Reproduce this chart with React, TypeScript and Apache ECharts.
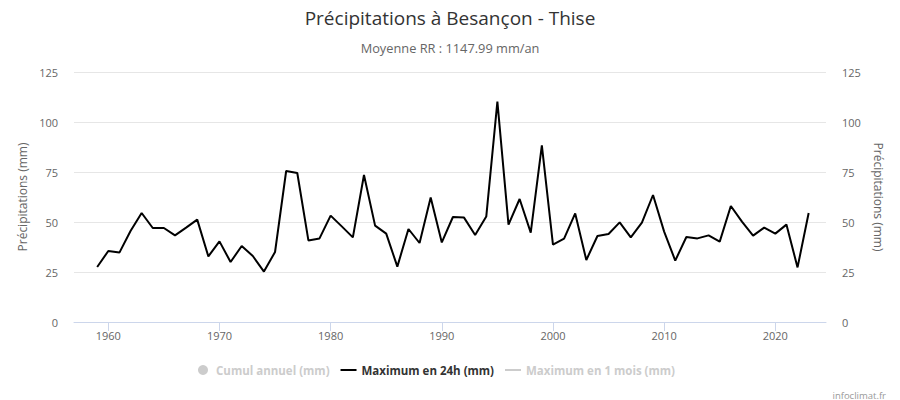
import React, { useEffect, useRef } from "react";
import * as echarts from "echarts";

const years: number[] = [
  1959, 1960, 1961, 1962, 1963, 1964, 1965, 1966, 1967, 1968, 1969, 1970, 1971, 1972, 1973, 1974, 1975, 1976, 1977, 1978,
  1979, 1980, 1981, 1982, 1983, 1984, 1985, 1986, 1987, 1988, 1989, 1990, 1991, 1992, 1993, 1994, 1995, 1996, 1997, 1998,
  1999, 2000, 2001, 2002, 2003, 2004, 2005, 2006, 2007, 2008, 2009, 2010, 2011, 2012, 2013, 2014, 2015, 2016, 2017, 2018,
  2019, 2020, 2021, 2022, 2023,
];

const max24h: number[] = [
  27.5, 35.5, 34.7, 45.5, 54.5, 47, 47, 43.3, 47.2, 51.2, 32.8, 40.3, 30, 38, 33, 25.2, 35, 75.5, 74.5, 40.8,
  41.8, 53.2, 47.8, 42.3, 73.5, 48.2, 44.2, 27.7, 46.5, 39.5, 62.2, 39.8, 52.5, 52.2, 43.5, 52.7, 110.2, 48.7, 61.5, 44.7,
  88.3, 38.7, 41.7, 54.3, 31, 43, 44, 49.8, 42.3, 49.7, 63.5, 45.2, 30.7, 42.5, 41.8, 43.3, 40.2, 58, 50.2, 43.2,
  47.2, 44.2, 48.7, 27.3, 54.5,
];

const cumulAnnuel: number[] = [];
const max1mois: number[] = [];

const xTickYears: number[] = [1960, 1970, 1980, 1990, 2000, 2010, 2020];

const FONT = "'Open Sans', sans-serif";
const LINE_ICON = "path://M0,0 L16,0 L16,2 L0,2 Z";

export default function App() {
  const ref = useRef<HTMLDivElement>(null);
  useEffect(() => {
    if (!ref.current) return;
    const chart = echarts.init(ref.current, null, { renderer: "svg" });
    chart.setOption({
      animation: false,
      backgroundColor: "#ffffff",
      textStyle: { fontFamily: FONT },
      title: [
        {
          text: "Précipitations à Besançon - Thise",
          left: "center",
          top: 3,
          textStyle: { fontFamily: FONT, fontSize: 19, fontWeight: "normal", color: "#333333" },
        },
        {
          text: "Moyenne RR : 1147.99 mm/an",
          left: "center",
          top: 36,
          textStyle: { fontFamily: FONT, fontSize: 12.8, fontWeight: "normal", color: "#666666" },
        },
        {
          text: "infoclimat.fr",
          right: 9,
          top: 385,
          textStyle: { fontFamily: FONT, fontSize: 9.5, fontWeight: "normal", color: "#999999" },
        },
      ],
      legend: {
        left: 193,
        top: 359,
        itemWidth: 16,
        itemHeight: 10,
        itemGap: 11,
        inactiveColor: "#cccccc",
        textStyle: { fontFamily: FONT, fontSize: 11.5, fontWeight: "bold", color: "#333333" },
        data: [
          { name: "Cumul annuel (mm)", icon: "circle" },
          { name: "Maximum en 24h (mm)", icon: LINE_ICON },
          { name: "Maximum en 1 mois (mm)", icon: LINE_ICON },
        ],
        selected: {
          "Cumul annuel (mm)": false,
          "Maximum en 24h (mm)": true,
          "Maximum en 1 mois (mm)": false,
        },
      },
      grid: { left: 74, right: 74, top: 72, bottom: 78, containLabel: false },
      xAxis: {
        type: "value",
        min: 1956.915,
        max: 2024.56,
        splitLine: { show: false },
        axisLine: { show: true, lineStyle: { color: "#ccd6eb", width: 1 } },
        axisTick: { show: true, length: 9, lineStyle: { color: "#ccd6eb" }, customValues: xTickYears },
        axisLabel: {
          color: "#666666",
          fontSize: 11,
          fontFamily: FONT,
          margin: 8,
          customValues: xTickYears,
          formatter: (v: number) => String(Math.round(v)),
        },
      },
      yAxis: [
        {
          type: "value",
          min: 0,
          max: 125,
          interval: 25,
          position: "left",
          name: "Précipitations (mm)",
          nameLocation: "middle",
          nameRotate: 90,
          nameGap: 46,
          nameTextStyle: { color: "#666666", fontSize: 12, fontFamily: FONT },
          axisLine: { show: false },
          axisTick: { show: false },
          axisLabel: { color: "#666666", fontSize: 11, fontFamily: FONT, margin: 16 },
          splitLine: { show: true, lineStyle: { color: "#e6e6e6", width: 1 } },
        },
        {
          type: "value",
          min: 0,
          max: 125,
          interval: 25,
          position: "right",
          name: "Précipitations (mm)",
          nameLocation: "middle",
          nameRotate: -90,
          nameGap: 46,
          nameTextStyle: { color: "#666666", fontSize: 12, fontFamily: FONT },
          axisLine: { show: false },
          axisTick: { show: false },
          axisLabel: { color: "#666666", fontSize: 11, fontFamily: FONT, margin: 16 },
          splitLine: { show: false },
        },
      ],
      series: [
        {
          name: "Cumul annuel (mm)",
          type: "line",
          yAxisIndex: 1,
          color: "#7cb5ec",
          symbol: "none",
          data: cumulAnnuel,
        },
        {
          name: "Maximum en 24h (mm)",
          type: "line",
          yAxisIndex: 0,
          color: "#000000",
          symbol: "none",
          lineStyle: { width: 2, color: "#000000" },
          data: years.map((y, i) => [y, max24h[i]]),
        },
        {
          name: "Maximum en 1 mois (mm)",
          type: "line",
          yAxisIndex: 0,
          color: "#90ed7d",
          symbol: "none",
          lineStyle: { width: 2 },
          data: max1mois,
        },
      ],
    });
    return () => chart.dispose();
  }, []);
  return <div ref={ref} style={{ width: 900, height: 400, position: "absolute", left: 0, top: 0 }} />;
}
